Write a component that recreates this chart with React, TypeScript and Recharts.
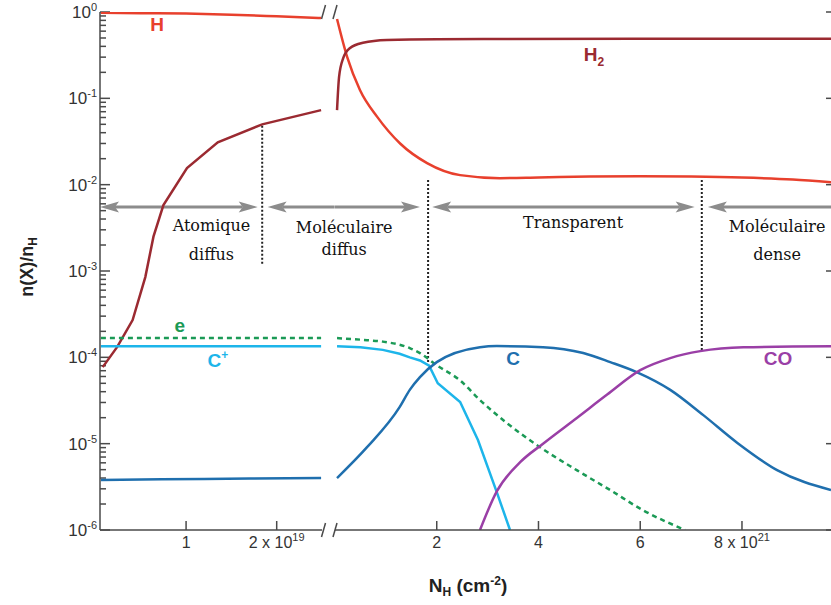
import React from "react";
import { LineChart, Line, XAxis, YAxis, ReferenceLine, ReferenceDot } from "recharts";

// left panel: N_H in units of 1e19 cm^-2
const leftDomain = [0.05, 2.5];
const leftTicks = [1, 2];
const leftTickText = ["1", "2 x 10"];
const leftTickExp = ["", "19"];

// right panel: N_H in units of 1e21 cm^-2
const rightDomain = [0, 9.75];
const rightTicks = [2, 4, 6, 8];
const rightTickText = ["2", "4", "6", "8 x 10"];
const rightTickExp = ["", "", "", "21"];

const decades = [1e-6, 1e-5, 1e-4, 1e-3, 1e-2, 1e-1, 1];

// H
const hLeftX = [0.06, 0.5, 1, 1.5, 2, 2.49];
const hLeftY = [0.98, 0.97, 0.96, 0.93, 0.89, 0.85];
const hRightX = [0.04, 0.24, 0.49, 0.83, 1.28, 1.81, 2.46, 3.24, 4, 5, 6, 7, 8, 9, 9.75];
const hRightY = [0.83, 0.3, 0.125, 0.061, 0.03, 0.0178, 0.0129, 0.0119, 0.0121, 0.0124, 0.0125, 0.0124, 0.0121, 0.0115, 0.0107];

// H2
const h2LeftX = [0.08, 0.24, 0.41, 0.55, 0.64, 0.75, 1.01, 1.35, 1.84, 2.49];
const h2LeftY = [7.7e-5, 1.32e-4, 2.7e-4, 8.5e-4, 2.5e-3, 5.8e-3, 0.0156, 0.031, 0.05, 0.073];
const h2RightX = [0.04, 0.08, 0.16, 0.29, 0.55, 1.02, 2, 3.24, 6, 9.75];
const h2RightY = [0.073, 0.177, 0.29, 0.38, 0.44, 0.474, 0.485, 0.487, 0.49, 0.49];

// electrons
const eLeftX = [0.06, 2.49];
const eLeftY = [1.67e-4, 1.67e-4];
const eRightX = [0.04, 0.63, 0.94, 1.47, 1.67, 2.0, 2.46, 2.85, 3.38, 4.03, 4.76, 5.41, 6.05, 6.88];
const eRightY = [1.67e-4, 1.58e-4, 1.52e-4, 1.28e-4, 1.12e-4, 8.1e-5, 5.4e-5, 3.2e-5, 1.73e-5, 9.1e-6, 4.9e-6, 2.9e-6, 1.7e-6, 1.0e-6];

// C+
const cpLeftX = [0.06, 2.49];
const cpLeftY = [1.34e-4, 1.34e-4];
const cpRightX = [0.04, 0.5, 0.94, 1.27, 1.47, 1.67, 1.85, 2.02, 2.46, 2.81, 3.18, 3.44];
const cpRightY = [1.34e-4, 1.31e-4, 1.22e-4, 1.1e-4, 1.0e-4, 9.2e-5, 8.0e-5, 5.0e-5, 3.04e-5, 1.1e-5, 2.75e-6, 1.0e-6];

// C
const cLeftX = [0.06, 1.2, 2.49];
const cLeftY = [3.8e-6, 3.9e-6, 4.0e-6];
const cRightX = [0.04, 0.63, 1.27, 1.47, 1.67, 2.0, 2.85, 3.18, 4.09, 4.88, 5.41, 5.94, 6.59, 7.24, 7.91, 8.7, 9.75];
const cRightY = [4.0e-6, 9.1e-6, 2.65e-5, 4.2e-5, 5.9e-5, 8.8e-5, 1.31e-4, 1.35e-4, 1.31e-4, 1.12e-4, 8.8e-5, 6.7e-5, 4.2e-5, 2.14e-5, 1.02e-5, 4.9e-6, 2.9e-6];

// CO
const coRightX = [2.85, 3.18, 3.64, 4.09, 4.76, 5.35, 6.0, 6.59, 7.18, 8.03, 9.75];
const coRightY = [1.0e-6, 2.8e-6, 6.1e-6, 1.0e-5, 2.0e-5, 3.7e-5, 7.1e-5, 9.8e-5, 1.18e-4, 1.31e-4, 1.34e-4];

// zone arrows and boundaries
const arrowLevel = 5.5e-3;
const leftArrows = [
  { from: 0.05, to: 1.79, left: true, right: true },
  { from: 1.9, to: 2.64, left: true, right: false },
];
const rightArrows = [
  { from: 0, to: 1.67, left: false, right: true },
  { from: 1.91, to: 7.07, left: true, right: true },
  { from: 7.33, to: 9.75, left: true, right: false },
];
const leftBounds = [{ x: 1.84, top: 0.048, bottom: 1.17e-3 }];
const rightBounds = [
  { x: 1.83, top: 0.0113, bottom: 7e-5 },
  { x: 7.21, top: 0.0113, bottom: 1.22e-4 },
];
const leftZoneText = [
  { x: 1.28, y: 2.9e-3, text: "Atomique" },
  { x: 1.28, y: 1.34e-3, text: "diffus" },
];
const rightZoneText = [
  { x: 0.18, y: 2.75e-3, text: "Moléculaire" },
  { x: 0.18, y: 1.53e-3, text: "diffus" },
  { x: 4.68, y: 3.15e-3, text: "Transparent" },
  { x: 8.69, y: 2.8e-3, text: "Moléculaire" },
  { x: 8.69, y: 1.34e-3, text: "dense" },
];

const RED = "#e8402d";
const DARKRED = "#9b2a31";
const GREEN = "#1b9a56";
const SKY = "#1db5ea";
const BLUE = "#1f6fae";
const PURPLE = "#9a3fa6";
const ARROW = "#8c8c8c";
const AXIS = "#4a4a4a";
const SANS = "'Liberation Sans', Arial, sans-serif";
const SERIF = "'DejaVu Serif', serif";

const leftLabels = [
  { x: 0.68, y: 0.707, text: "H", sub: "", sup: "", color: RED },
  { x: 0.93, y: 2.3e-4, text: "e", sub: "", sup: "", color: GREEN },
  { x: 1.35, y: 9.06e-5, text: "C", sub: "", sup: "+", color: SKY },
];
const rightLabels = [
  { x: 5.09, y: 0.318, text: "H", sub: "2", sup: "", color: DARKRED },
  { x: 3.5, y: 9.6e-5, text: "C", sub: "", sup: "", color: BLUE },
  { x: 8.71, y: 9.5e-5, text: "CO", sub: "", sup: "", color: PURPLE },
];

// decade ticks plus minor ticks 2..9 in every decade
const yTicks: number[] = [...decades];
decades.slice(0, -1).forEach((d) => {
  for (let k = 2; k <= 9; k++) yTicks.push(k * d);
});

const xy = (xs: number[], ys: number[]) => xs.map((x, i) => ({ x, y: ys[i] }));

const isDecade = (v: number) => Math.abs(Math.log10(v) - Math.round(Math.log10(v))) < 1e-6;

const YTick = (props: any) => {
  const { x, y, payload } = props;
  const e = Math.round(Math.log10(payload.value));
  return (
    <text x={x - 3} y={y} dy={6} textAnchor="end" fill="#333" fontSize={17} fontFamily={SANS}>
      <tspan>10</tspan>
      <tspan dy={-7} fontSize={11}>{e}</tspan>
    </text>
  );
};

const makeXTick = (ticks: number[], texts: string[], exps: string[]) => (props: any) => {
  const { x, y, payload } = props;
  const i = ticks.indexOf(payload.value);
  return (
    <g>
      <line x1={x} x2={x} y1={y} y2={y - 9} stroke={AXIS} strokeWidth={1.5} />
      <text x={x} y={y} dy={18} textAnchor="middle" fill="#333" fontSize={16} fontFamily={SANS}>
        <tspan>{texts[i]}</tspan>
        {exps[i] ? <tspan dy={-7} fontSize={11}>{exps[i]}</tspan> : null}
      </text>
    </g>
  );
};

const TopTick = (props: any) => (
  <line x1={props.x} x2={props.x} y1={props.y} y2={props.y + 9} stroke={AXIS} strokeWidth={1.5} />
);

// short inward tick drawn at a y value, on the left or right edge of the plot
const yTickShape = (len: number, side: string) => (p: any) => {
  const xa = Math.min(p.x1, p.x2);
  const xb = Math.max(p.x1, p.x2);
  return side === "left" ? (
    <line x1={xa} x2={xa + len} y1={p.y1} y2={p.y1} stroke={AXIS} strokeWidth={1.5} />
  ) : (
    <line x1={xb - len} x2={xb} y1={p.y1} y2={p.y1} stroke={AXIS} strokeWidth={1.5} />
  );
};

const arrowShape = (left: boolean, right: boolean) => (props: any) => {
  const xa = Math.min(props.x1, props.x2);
  const xb = Math.max(props.x1, props.x2);
  const y = props.y1;
  const L = 19;
  const W = 5.5;
  return (
    <g>
      <line x1={left ? xa + L - 4 : xa} x2={right ? xb - L + 4 : xb} y1={y} y2={y} stroke={ARROW} strokeWidth={3} />
      {left && <polygon points={`${xa},${y} ${xa + L},${y - W} ${xa + L - 4},${y} ${xa + L},${y + W}`} fill={ARROW} />}
      {right && <polygon points={`${xb},${y} ${xb - L},${y - W} ${xb - L + 4},${y} ${xb - L},${y + W}`} fill={ARROW} />}
    </g>
  );
};

const breakShape = (shift: number) => (props: any) => {
  const x = props.x1 + shift;
  const top = Math.min(props.y1, props.y2);
  const bottom = Math.max(props.y1, props.y2);
  return (
    <g stroke={AXIS} strokeWidth={1.5}>
      <line x1={x - 2} y1={top + 7} x2={x + 2} y2={top - 7} />
      <line x1={x - 2} y1={bottom + 7} x2={x + 2} y2={bottom - 7} />
    </g>
  );
};

const zoneTextShape = (text: string) => (p: any) => (
  <text x={p.cx} y={p.cy} textAnchor="middle" fontSize={16} fontFamily={SERIF} fill="#111">
    {text}
  </text>
);

const speciesShape = (l: any) => (p: any) => (
  <text x={p.cx} y={p.cy} dy={6} textAnchor="middle" fontSize={19} fontWeight="bold" fontFamily={SANS} fill={l.color}>
    <tspan>{l.text}</tspan>
    {l.sub ? <tspan dy={5} fontSize={12}>{l.sub}</tspan> : null}
    {l.sup ? <tspan dy={-8} fontSize={12}>{l.sup}</tspan> : null}
  </text>
);

const lineProps = { dot: false, isAnimationActive: false, strokeWidth: 2.5 };
const axisLineStyle = { stroke: AXIS, strokeWidth: 1.5 };

function Frame({ domain, ticks, texts, exps }: any) {
  return [
    <XAxis key="b" xAxisId="b" type="number" dataKey="x" domain={domain} allowDataOverflow ticks={ticks} interval={0}
      tickLine={false} tickSize={0} tickMargin={0} height={30} axisLine={axisLineStyle}
      tick={makeXTick(ticks, texts, exps)} />,
    <XAxis key="t" xAxisId="t" type="number" orientation="top" height={0} domain={domain} allowDataOverflow ticks={ticks}
      interval={0} tickLine={false} tickSize={0} tickMargin={0} axisLine={axisLineStyle} tick={<TopTick />} />,
  ];
}

export default function App() {
  const logY = { type: "number" as const, scale: "log" as const, domain: [1e-6, 1], allowDataOverflow: true, interval: 0 as const };
  return (
    <div style={{ position: "absolute", left: 0, top: 0, width: 831, height: 605, background: "#fff" }}>
      <svg width={50} height={140} style={{ position: "absolute", left: 0, top: 200 }}>
        <text transform="translate(33,67) rotate(-90)" textAnchor="middle" fontSize={18} fontWeight="bold" fontFamily={SANS} fill="#222">
          n(X)/n<tspan dy={4} fontSize={12}>H</tspan>
        </text>
      </svg>
      <svg width={180} height={40} style={{ position: "absolute", left: 378, top: 565 }}>
        <text x={90} y={27} textAnchor="middle" fontSize={19} fontWeight="bold" fontFamily={SANS} fill="#222">
          N<tspan dy={4} fontSize={12}>H</tspan>
          <tspan dy={-4}> (cm</tspan>
          <tspan dy={-7} fontSize={12}>-2</tspan>
          <tspan dy={7}>)</tspan>
        </text>
      </svg>

      <div style={{ position: "absolute", left: 280, top: 0 }}>
        <LineChart width={551} height={605} margin={{ top: 12, right: 0, bottom: 45, left: 55 }}>
          {Frame({ domain: rightDomain, ticks: rightTicks, texts: rightTickText, exps: rightTickExp })}
          <YAxis yAxisId="r" {...logY} orientation="right" hide ticks={decades} />

          {decades.map((v, i) => (
            <ReferenceLine key={"yt" + i} xAxisId="b" yAxisId="r" y={v} ifOverflow="visible" shape={yTickShape(5, "right")} />
          ))}
          {rightArrows.map((a, i) => (
            <ReferenceLine key={"a" + i} xAxisId="b" yAxisId="r" ifOverflow="visible"
              segment={[{ x: a.from, y: arrowLevel }, { x: a.to, y: arrowLevel }]} shape={arrowShape(a.left, a.right)} />
          ))}
          {rightBounds.map((b, i) => (
            <ReferenceLine key={"d" + i} xAxisId="b" yAxisId="r" segment={[{ x: b.x, y: b.top }, { x: b.x, y: b.bottom }]}
              stroke="#222" strokeWidth={2} strokeDasharray="2 2" />
          ))}
          <ReferenceLine xAxisId="b" yAxisId="r" x={rightDomain[0]} ifOverflow="visible" shape={breakShape(0)} />

          <Line xAxisId="b" yAxisId="r" data={xy(hRightX, hRightY)} dataKey="y" type="monotone" stroke={RED} {...lineProps} />
          <Line xAxisId="b" yAxisId="r" data={xy(h2RightX, h2RightY)} dataKey="y" type="monotone" stroke={DARKRED} {...lineProps} />
          <Line xAxisId="b" yAxisId="r" data={xy(eRightX, eRightY)} dataKey="y" type="monotone" stroke={GREEN} strokeDasharray="5 4" {...lineProps} />
          <Line xAxisId="b" yAxisId="r" data={xy(cpRightX, cpRightY)} dataKey="y" type="linear" stroke={SKY} {...lineProps} />
          <Line xAxisId="b" yAxisId="r" data={xy(cRightX, cRightY)} dataKey="y" type="monotone" stroke={BLUE} {...lineProps} />
          <Line xAxisId="b" yAxisId="r" data={xy(coRightX, coRightY)} dataKey="y" type="monotone" stroke={PURPLE} {...lineProps} />

          {rightZoneText.map((t, i) => (
            <ReferenceDot key={"z" + i} xAxisId="b" yAxisId="r" x={t.x} y={t.y} r={0} shape={zoneTextShape(t.text)} />
          ))}
          {rightLabels.map((l, i) => (
            <ReferenceDot key={"s" + i} xAxisId="b" yAxisId="r" x={l.x} y={l.y} r={0} shape={speciesShape(l)} />
          ))}
        </LineChart>
      </div>

      <div style={{ position: "absolute", left: 0, top: 0 }}>
        <LineChart width={336} height={605} margin={{ top: 12, right: 14, bottom: 45, left: 0 }}>
          {Frame({ domain: leftDomain, ticks: leftTicks, texts: leftTickText, exps: leftTickExp })}
          <YAxis yAxisId="y" {...logY} ticks={decades} width={100} tickLine={false} tickSize={0} tickMargin={0}
            axisLine={axisLineStyle} tick={<YTick />} />

          {yTicks.map((v, i) => (
            <ReferenceLine key={"yt" + i} xAxisId="b" yAxisId="y" y={v} ifOverflow="visible"
              shape={yTickShape(isDecade(v) ? 10 : 6, "left")} />
          ))}
          {leftArrows.map((a, i) => (
            <ReferenceLine key={"a" + i} xAxisId="b" yAxisId="y" ifOverflow="visible"
              segment={[{ x: a.from, y: arrowLevel }, { x: a.to, y: arrowLevel }]} shape={arrowShape(a.left, a.right)} />
          ))}
          {leftBounds.map((b, i) => (
            <ReferenceLine key={"d" + i} xAxisId="b" yAxisId="y" segment={[{ x: b.x, y: b.top }, { x: b.x, y: b.bottom }]}
              stroke="#222" strokeWidth={2} strokeDasharray="2 2" />
          ))}
          <ReferenceLine xAxisId="b" yAxisId="y" x={leftDomain[1]} ifOverflow="visible" shape={breakShape(1.5)} />

          <Line xAxisId="b" yAxisId="y" data={xy(hLeftX, hLeftY)} dataKey="y" type="monotone" stroke={RED} {...lineProps} />
          <Line xAxisId="b" yAxisId="y" data={xy(h2LeftX, h2LeftY)} dataKey="y" type="linear" stroke={DARKRED} {...lineProps} />
          <Line xAxisId="b" yAxisId="y" data={xy(eLeftX, eLeftY)} dataKey="y" type="linear" stroke={GREEN} strokeDasharray="5 4" {...lineProps} />
          <Line xAxisId="b" yAxisId="y" data={xy(cpLeftX, cpLeftY)} dataKey="y" type="linear" stroke={SKY} {...lineProps} />
          <Line xAxisId="b" yAxisId="y" data={xy(cLeftX, cLeftY)} dataKey="y" type="monotone" stroke={BLUE} {...lineProps} />

          {leftZoneText.map((t, i) => (
            <ReferenceDot key={"z" + i} xAxisId="b" yAxisId="y" x={t.x} y={t.y} r={0} shape={zoneTextShape(t.text)} />
          ))}
          {leftLabels.map((l, i) => (
            <ReferenceDot key={"s" + i} xAxisId="b" yAxisId="y" x={l.x} y={l.y} r={0} shape={speciesShape(l)} />
          ))}
        </LineChart>
      </div>
    </div>
  );
}
